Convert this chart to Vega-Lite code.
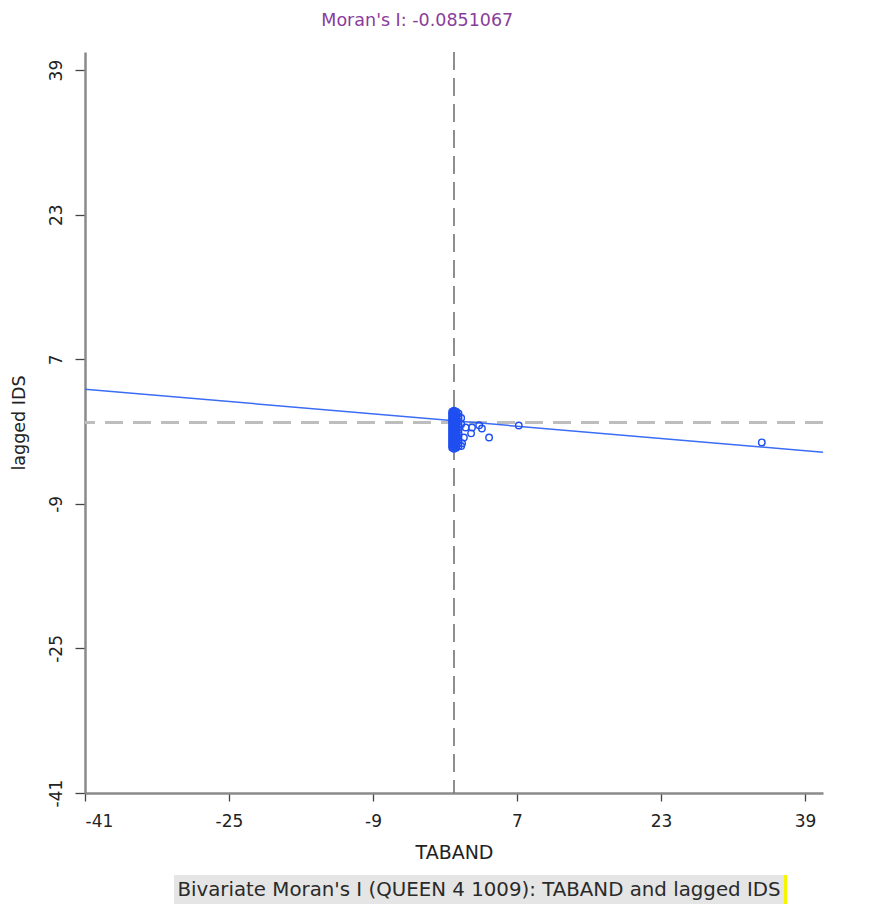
{
  "$schema": "https://vega.github.io/schema/vega-lite/v6.json",
  "background": "white",
  "padding": {"left": 10, "top": 11, "right": 5, "bottom": 0},
  "title": {"text": "Moran's I: -0.0851067", "color": "#8a3c9c", "font": "DejaVu Sans", "fontSize": 17.5, "fontWeight": "normal", "offset": 22, "anchor": "middle"},
  "config": {
    "view": {"stroke": null},
    "font": "DejaVu Sans",
    "axis": {"grid": false, "domainColor": "#8a8a8a", "domainWidth": 2.5, "tickColor": "#444", "tickWidth": 1.3, "tickSize": 9, "labelColor": "#222", "labelFont": "DejaVu Sans", "labelFontSize": 17, "titleFont": "DejaVu Sans", "titleFontSize": 18, "titleFontWeight": "normal", "titleColor": "#222", "labelPadding": 8, "labelExpr": "'' + datum.value"}
  },
  "datasets": {
    "pts": [
      {"x": -0.2, "y": 1.2}, {"x": -0.2, "y": 1.0}, {"x": -0.2, "y": 0.8}, {"x": -0.2, "y": 0.6}, {"x": -0.2, "y": 0.4}, {"x": -0.2, "y": 0.2}, {"x": -0.2, "y": 0.0}, {"x": -0.2, "y": -0.2}, {"x": -0.2, "y": -0.4}, {"x": -0.2, "y": -0.6}, {"x": -0.2, "y": -0.8}, {"x": -0.2, "y": -1.0}, {"x": -0.2, "y": -1.2}, {"x": -0.2, "y": -1.4}, {"x": -0.2, "y": -1.6}, {"x": -0.2, "y": -1.8}, {"x": -0.2, "y": -2.0}, {"x": -0.2, "y": -2.2}, {"x": -0.2, "y": -2.4}, {"x": -0.2, "y": -2.6}, {"x": -0.2, "y": -2.8},
      {"x": 0.0, "y": 1.3}, {"x": 0.0, "y": 1.1}, {"x": 0.0, "y": 0.9}, {"x": 0.0, "y": 0.7}, {"x": 0.0, "y": 0.5}, {"x": 0.0, "y": 0.3}, {"x": 0.0, "y": 0.1}, {"x": 0.0, "y": -0.1}, {"x": 0.0, "y": -0.3}, {"x": 0.0, "y": -0.5}, {"x": 0.0, "y": -0.7}, {"x": 0.0, "y": -0.9}, {"x": 0.0, "y": -1.1}, {"x": 0.0, "y": -1.3}, {"x": 0.0, "y": -1.5}, {"x": 0.0, "y": -1.7}, {"x": 0.0, "y": -1.9}, {"x": 0.0, "y": -2.1}, {"x": 0.0, "y": -2.3}, {"x": 0.0, "y": -2.5}, {"x": 0.0, "y": -2.7}, {"x": 0.0, "y": -2.9},
      {"x": 0.25, "y": 1.2}, {"x": 0.25, "y": 1.0}, {"x": 0.25, "y": 0.8}, {"x": 0.25, "y": 0.6}, {"x": 0.25, "y": 0.4}, {"x": 0.25, "y": 0.2}, {"x": 0.25, "y": 0.0}, {"x": 0.25, "y": -0.2}, {"x": 0.25, "y": -0.4}, {"x": 0.25, "y": -0.6}, {"x": 0.25, "y": -0.8}, {"x": 0.25, "y": -1.0}, {"x": 0.25, "y": -1.2}, {"x": 0.25, "y": -1.4}, {"x": 0.25, "y": -1.6}, {"x": 0.25, "y": -1.8}, {"x": 0.25, "y": -2.0}, {"x": 0.25, "y": -2.2}, {"x": 0.25, "y": -2.4}, {"x": 0.25, "y": -2.6}, {"x": 0.25, "y": -2.8},
      {"x": 0.5, "y": 1.0}, {"x": 0.5, "y": 0.7}, {"x": 0.5, "y": 0.4}, {"x": 0.5, "y": 0.1}, {"x": 0.5, "y": -0.2}, {"x": 0.5, "y": -0.5}, {"x": 0.5, "y": -0.8}, {"x": 0.5, "y": -1.1}, {"x": 0.5, "y": -1.4}, {"x": 0.5, "y": -1.7}, {"x": 0.5, "y": -2.0}, {"x": 0.5, "y": -2.3}, {"x": 0.5, "y": -2.6},
      {"x": 0.8, "y": 0.5}, {"x": 0.8, "y": -0.2}, {"x": 0.8, "y": -2.6},
      {"x": 1.3, "y": -0.55}, {"x": 1.1, "y": -1.66}, {"x": 0.9, "y": -2.3}, {"x": 2.0, "y": -0.55}, {"x": 1.9, "y": -1.2}, {"x": 2.8, "y": -0.3}, {"x": 3.1, "y": -0.67}, {"x": 3.9, "y": -1.66}, {"x": 7.2, "y": -0.33}, {"x": 34.2, "y": -2.2}
    ],
    "fit": [{"x": -41, "y": 3.68}, {"x": 41, "y": -3.3}],
    "caption": [{"label": "Bivariate Moran's I (QUEEN 4 1009): TABAND and lagged IDS"}],
    "blank": [{"label": ""}]
  },
  "vconcat": [
    {
      "width": 738,
      "height": 741,
      "layer": [
        {
          "data": {"name": "blank"},
          "mark": {"type": "rule", "color": "#bdbdbd", "strokeWidth": 3, "strokeDash": [18, 10]},
          "encoding": {"y": {"datum": 0, "type": "quantitative", "scale": {"domain": [-41, 41], "nice": false, "zero": false}}}
        },
        {
          "data": {"name": "blank"},
          "mark": {"type": "rule", "color": "#6a6a6a", "strokeWidth": 1.5, "strokeDash": [18, 8]},
          "encoding": {"x": {"datum": 0, "type": "quantitative", "scale": {"domain": [-41, 41], "nice": false, "zero": false}}}
        },
        {
          "data": {"name": "fit"},
          "mark": {"type": "line", "color": "#3a6cf5", "strokeWidth": 1.5, "clip": true},
          "encoding": {
            "x": {"field": "x", "type": "quantitative"},
            "y": {"field": "y", "type": "quantitative"}
          }
        },
        {
          "data": {"name": "pts"},
          "mark": {"type": "point", "shape": "circle", "filled": false, "color": "#1f4ff0", "size": 42, "strokeWidth": 1.4, "opacity": 1},
          "encoding": {
            "x": {"field": "x", "type": "quantitative", "title": "TABAND", "scale": {"domain": [-41, 41], "nice": false, "zero": false},
                  "axis": {"values": [-41, -25, -9, 7, 23, 39], "tickSize": 8, "labelPadding": 12, "titlePadding": 14, "titleFontSize": 19}},
            "y": {"field": "y", "type": "quantitative", "title": "lagged IDS", "scale": {"domain": [-41, 41], "nice": false, "zero": false},
                  "axis": {"values": [-41, -25, -9, 7, 23, 39], "labelAngle": -90, "labelAlign": "center", "labelBaseline": "bottom", "tickSize": 10, "labelPadding": 10, "titlePadding": 19, "titleFontSize": 17.5}}
          }
        }
      ]
    },
    {
      "spacing": 0,
      "hconcat": [
        {
          "width": 89,
          "height": 29,
          "data": {"name": "blank"},
          "mark": {"type": "text"},
          "encoding": {"text": {"field": "label"}}
        },
        {
          "width": 610,
          "height": 29,
          "view": {"fill": "#e5e5e5", "stroke": null},
          "data": {"name": "caption"},
          "mark": {"type": "text", "font": "DejaVu Sans", "fontSize": 19.8, "color": "#2a2a2a", "align": "center", "baseline": "middle"},
          "encoding": {"text": {"field": "label"}}
        },
        {
          "width": 3,
          "height": 29,
          "view": {"fill": "#f5f500", "stroke": null},
          "data": {"name": "blank"},
          "mark": {"type": "text"},
          "encoding": {"text": {"field": "label"}}
        }
      ]
    }
  ],
  "spacing": 13
}
